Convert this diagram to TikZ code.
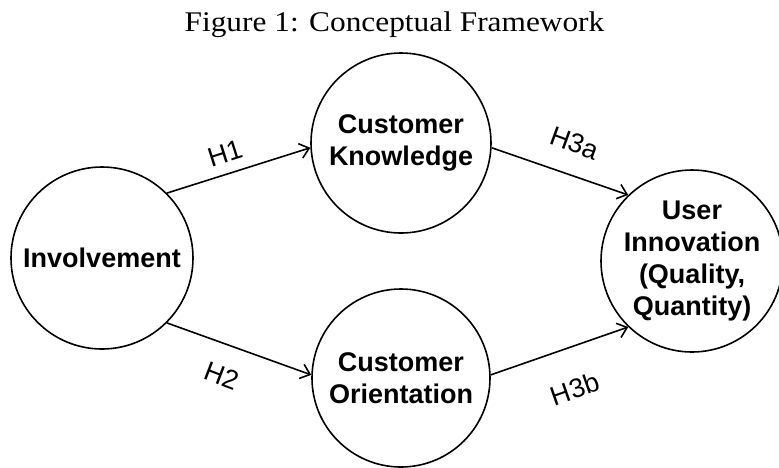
\documentclass[tikz,border=0pt]{standalone}
\usepackage{fontspec}
\setmainfont{Liberation Serif}
\setsansfont{Liberation Sans}
\usetikzlibrary{arrows.meta}
\begin{document}
\begin{tikzpicture}[x=1pt,y=-1pt,
  concept/.style={circle, draw, line width=1.6pt, inner sep=0pt,
    font=\sffamily\bfseries\fontsize{27}{32}\selectfont, align=center},
  link/.style={line width=1.6pt, -{Straight Barb[length=9pt,width=15pt,line width=1.6pt]}},
  hyp/.style={font=\sffamily\fontsize{27}{32}\selectfont, inner sep=0pt}]
\useasboundingbox (0,0) rectangle (779,467);
\node[font=\rmfamily\fontsize{28.5}{34}\selectfont, xscale=1.1, anchor=base] (title) at (394.5,31) {Figure 1: Conceptual Framework};
\node[concept, minimum size=182pt] (inv) at (102,258) {Involvement};
\node[concept, minimum size=180pt] (ck) at (401,143) {Customer\\Knowledge};
\node[concept, minimum size=178pt] (co) at (401,378) {Customer\\Orientation};
\node[concept, minimum size=180pt] (ui) at (692,261) {User\\Innovation\\(Quality,\\Quantity)};
\draw[link] (inv.45) -- (ck.183);
\draw[link] (inv.-45) -- (co.178);
\draw[link] (ck.-3) -- (ui.134);
\draw[link] (co.2) -- (ui.226);
\node[hyp, rotate=17.6] (h1) at (225,153) {H1};
\node[hyp, rotate=-21] (h2) at (222,376) {H2};
\node[hyp, rotate=-20] (h3a) at (575,143) {H3a};
\node[hyp, rotate=19.3] (h3b) at (575,389) {H3b};
\end{tikzpicture}
\end{document}
